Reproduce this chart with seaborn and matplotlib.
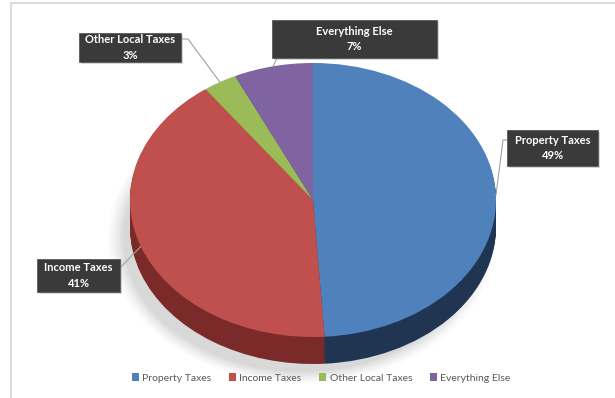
# 3D风格饼图：地方税收构成
import numpy as np
import seaborn as sns
import matplotlib.pyplot as plt
from matplotlib.patches import Rectangle, Ellipse

categories = ['Property Taxes', 'Income Taxes', 'Other Local Taxes', 'Everything Else']
shares = [49, 41, 3, 7]
pct_labels = ['49%', '41%', '3%', '7%']

top_colors = sns.color_palette(['#4f81bd', '#c0504d', '#9bbb59', '#8064a2'])
side_colors = sns.color_palette(['#1f3552', '#7a2b29', '#5c7331', '#4a3868'])

W, H = 615, 398
CX, CY, RX, RY = 313, 200, 183, 137   # 饼图中心和半径（像素）
DEPTH = 27                             # 侧面厚度（像素）

# 标签框的位置（像素，左 上 右 下）
boxes = {
    'Property Taxes': (507, 130, 598, 166),
    'Income Taxes': (37, 259, 120, 292),
    'Other Local Taxes': (79, 33, 181, 62),
    'Everything Else': (272, 20, 437, 58),
}


def to_data(x, y):
    return (x - CX) / RX, (CY - y) / RY


sns.set_style('white')
plt.rcParams['font.family'] = ['Lato', 'DejaVu Sans']

fig = plt.figure(figsize=(W / 100, H / 100), dpi=100)
ax = fig.add_axes([0, 0, 1, 1])

# 阴影（偏左下）
for s, a in zip(np.linspace(1.06, 0.98, 6), [0.03, 0.04, 0.05, 0.06, 0.07, 0.08]):
    ax.add_patch(Ellipse((-0.06, -DEPTH / RY - 0.08), 2 * s, 2 * s,
                         fc='#808080', ec='none', alpha=a, zorder=0))

# 侧面：一层层往下叠
n_layers = DEPTH
for k in range(n_layers, 0, -1):
    ax.pie(shares, colors=side_colors, startangle=90, counterclock=False,
           center=(0, -k * DEPTH / RY / n_layers), wedgeprops=dict(linewidth=0))

# 顶面
wedges, _ = ax.pie(shares, colors=top_colors, startangle=90, counterclock=False,
                   wedgeprops=dict(linewidth=0))

ax.set_aspect('auto')
ax.set_xlim(-CX / RX, (W - CX) / RX)
ax.set_ylim((CY - H) / RY, CY / RY)
ax.axis('off')

# 标签框 + 引线
for w, cat, pct in zip(wedges, categories, pct_labels):
    x0, y0, x1, y1 = boxes[cat]
    ang = np.deg2rad((w.theta1 + w.theta2) / 2)
    anchor = (np.cos(ang), np.sin(ang))
    if cat == 'Property Taxes':
        pts = [to_data(x0, 140), to_data(x0 - 4, 140), anchor]
    elif cat == 'Income Taxes':
        pts = [to_data(x1, 268), anchor]
    elif cat == 'Other Local Taxes':
        pts = [to_data(x1, 39), to_data(x1 + 7, 39), anchor]
    else:
        pts = [to_data(x0 + 5, y1), anchor]
    ax.plot([p[0] for p in pts], [p[1] for p in pts], color='#a0a0a0', lw=0.8, zorder=5)

    bx, by = to_data(x0, y1)
    bw, bh = (x1 - x0) / RX, (y1 - y0) / RY
    ax.add_patch(Rectangle((bx + 2 / RX, by - 2 / RY), bw, bh, fc='#b0b0b0',
                           ec='none', alpha=0.5, zorder=6))
    ax.add_patch(Rectangle((bx, by), bw, bh, fc='#3a3a3a', ec='#5a5a5a',
                           lw=0.6, zorder=7))
    tx, ty = to_data((x0 + x1) / 2, (y0 + y1) / 2)
    ax.text(tx, ty, f'{cat}\n{pct}', ha='center', va='center', color='white',
            fontweight='bold', fontsize=8, linespacing=1.45, zorder=8)

# 图例
fig.legend(wedges, categories, loc='center', bbox_to_anchor=(321 / W, 1 - 378 / H),
           ncol=4, frameon=False, fontsize=7.5, handlelength=0.7, handleheight=0.7,
           handletextpad=0.3, columnspacing=1.7, labelcolor='#595959')

# 图表外框
fig.add_artist(Rectangle((11 / W, -0.02), 1.0, 1 - 3 / H + 0.02, transform=fig.transFigure,
                         fill=False, ec='#d4d4d4', lw=1.2))

fig.savefig('out.png', dpi=100)
